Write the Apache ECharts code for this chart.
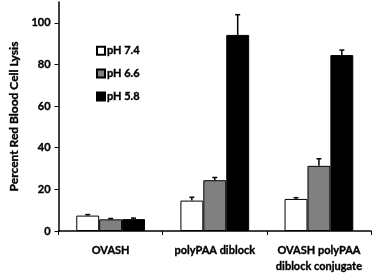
<!DOCTYPE html>
<html><head><meta charset="utf-8">
<script src="https://cdn.jsdelivr.net/npm/echarts@6/dist/echarts.min.js"></script>
<style>html,body{margin:0;padding:0;background:#fff}#c{width:373px;height:275px}</style>
</head><body><div id="c"></div>
<script>
const categories = ['OVASH', 'polyPAA diblock', 'OVASH polyPAA\ndiblock conjugate'];
const seriesNames = ['pH 7.4', 'pH 6.6', 'pH 5.8'];
const ph74 = [7.4, 14.6, 15.4];
const ph66 = [5.6, 24.4, 31.3];
const ph58 = [5.7, 94.2, 84.5];
const err74 = [0.5, 1.6, 0.6];
const err66 = [0.4, 1.3, 3.4];
const err58 = [0.5, 9.7, 2.4];
const yTicks = [0, 20, 40, 60, 80, 100];

const values = [ph74, ph66, ph58];
const errs = [err74, err66, err58];
const colors = ['#ffffff', '#808080', '#000000'];
const catGap = 0.34;
const font = 'Lato, "Open Sans", sans-serif';
const boldText = { fontFamily: font, fontWeight: 'bold', color: '#000', textBorderColor: '#000', textBorderWidth: 0.35 };

const chart = echarts.init(document.getElementById('c'));
const series = [];
values.forEach((v, i) => {
  series.push({
    name: seriesNames[i], type: 'bar', data: v,
    barGap: 0, barCategoryGap: (catGap * 100) + '%',
    itemStyle: { color: colors[i], borderColor: '#000', borderWidth: 1 },
    z: 2
  });
});
values.forEach((v, i) => {
  series.push({
    type: 'custom', z: 3, silent: true,
    data: v.map((val, j) => [j, val, errs[i][j]]),
    renderItem: function (params, api) {
      const j = api.value(0), val = api.value(1), e = api.value(2);
      const band = api.size([1, 0])[0];
      const bw = band * (1 - catGap) / 3;
      const c = api.coord([j, val]);
      const x = c[0] + (i - 1) * bw;
      const yTop = api.coord([j, val + e])[1];
      return {
        type: 'group', children: [
          { type: 'line', shape: { x1: x, y1: c[1], x2: x, y2: yTop }, style: { stroke: '#000', lineWidth: 1.5 } },
          { type: 'line', shape: { x1: x - 2.5, y1: yTop, x2: x + 2.5, y2: yTop }, style: { stroke: '#000', lineWidth: 1.5 } }
        ]
      };
    }
  });
});

chart.setOption({
  animation: false,
  grid: { left: 53, right: 2, top: 2, bottom: 44 },
  legend: {
    data: seriesNames, orient: 'vertical', left: 91, top: 40,
    itemWidth: 8, itemHeight: 8, itemGap: 11.5,
    icon: 'rect',
    textStyle: Object.assign({ fontSize: 11, padding: [0, 0, 0, -3] }, boldText)
  },
  xAxis: {
    type: 'category', data: categories,
    axisLine: { lineStyle: { color: '#000', width: 1.5 } },
    axisTick: { show: true, length: 4, lineStyle: { color: '#000' } },
    axisLabel: Object.assign({ fontSize: 11, margin: 11, lineHeight: 16, interval: 0 }, boldText)
  },
  yAxis: {
    type: 'value', min: 0, max: 110, interval: 20,
    name: 'Percent Red Blood Cell Lysis', nameLocation: 'middle', nameGap: 37,
    nameTextStyle: Object.assign({ fontSize: 12 }, boldText),
    axisLine: { show: true, lineStyle: { color: '#000', width: 1.5 } },
    axisTick: { show: true, length: 4, customValues: yTicks, lineStyle: { color: '#000' } },
    axisLabel: Object.assign({ customValues: yTicks, fontSize: 11, margin: 8 }, boldText),
    splitLine: { show: false }
  },
  series: series
});
</script></body></html>
